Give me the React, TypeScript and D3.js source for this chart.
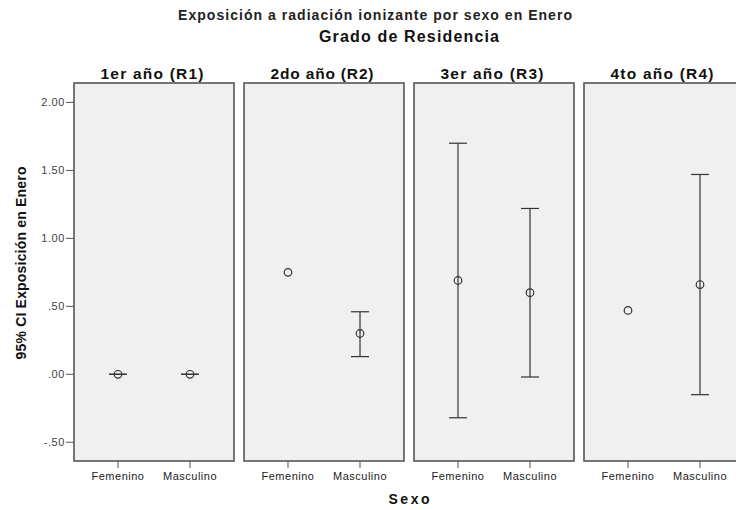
import React from "react";
import * as d3 from "d3";

const panelTitles = ["1er año (R1)", "2do año (R2)", "3er año (R3)", "4to año (R4)"];
const categories = ["Femenino", "Masculino"];
const femMean = [0.0, 0.75, 0.69, 0.47];
const femLower: (number | null)[] = [0.0, null, -0.32, null];
const femUpper: (number | null)[] = [0.0, null, 1.70, null];
const masMean = [0.0, 0.30, 0.60, 0.66];
const masLower: (number | null)[] = [0.0, 0.13, -0.02, -0.15];
const masUpper: (number | null)[] = [0.0, 0.46, 1.22, 1.47];
const yTicks = [-0.5, 0, 0.5, 1.0, 1.5, 2.0];

const W = 736, H = 510;
const panelLeft = 74, panelW = 160, panelGap = 10;
const top = 83, bottom = 461;
const font = "'Liberation Sans', Arial, sans-serif";

function fmt(v: number) {
  let s = v.toFixed(2);
  s = s.replace(/^(-?)0\./, "$1.");
  return s;
}

export default function App() {
  const n = panelTitles.length;
  const y = d3.scaleLinear().domain([-0.638, 2.143]).range([bottom, top]);
  const px = d3
    .scaleBand<number>()
    .domain(d3.range(n))
    .range([panelLeft, panelLeft + n * panelW + (n - 1) * panelGap])
    .paddingInner(panelGap / (panelW + panelGap))
    .paddingOuter(0);
  const bw = px.bandwidth();
  const x = d3.scalePoint<string>().domain(categories).range([0, bw]).padding(0.611);
  const series = [
    { mean: femMean, lo: femLower, hi: femUpper, cat: categories[0] },
    { mean: masMean, lo: masLower, hi: masUpper, cat: categories[1] },
  ];
  const stroke = "#333";
  const allPanelsCenter = (panelLeft + (px(n - 1)! + bw)) / 2;
  return (
    <svg width={W} height={H} style={{ position: "absolute", left: 0, top: 0, background: "#fff" }}>
      <text x={375} y={20} textAnchor="middle" fontFamily={font} fontWeight="bold" fontSize={14} fill="#222" textLength={394} lengthAdjust="spacing">
        Exposición a radiación ionizante por sexo en Enero
      </text>
      <text x={409} y={42} textAnchor="middle" fontFamily={font} fontWeight="bold" fontSize={16} fill="#111" textLength={180} lengthAdjust="spacing">
        Grado de Residencia
      </text>
      {yTicks.map((t) => (
        <g key={t}>
          <line x1={panelLeft - 8} x2={panelLeft} y1={y(t)} y2={y(t)} stroke="#555" strokeWidth={1} />
          <text x={panelLeft - 9} y={y(t)} dy="0.35em" textAnchor="end" fontFamily={font} fontSize={11} fill="#444" letterSpacing={0.6}>
            {fmt(t)}
          </text>
        </g>
      ))}
      <text transform={`translate(26, ${263}) rotate(-90)`} textAnchor="middle" fontFamily={font} fontWeight="bold" fontSize={14} fill="#111" textLength={193} lengthAdjust="spacing">
        95% CI Exposición en Enero
      </text>
      {panelTitles.map((title, i) => {
        const x0 = px(i)!;
        return (
          <g key={title}>
            <text x={x0 + bw / 2 - 2} y={79} textAnchor="middle" fontFamily={font} fontWeight="bold" fontSize={15.5} fill="#111" textLength={103} lengthAdjust="spacing">
              {title}
            </text>
            <rect x={x0} y={top} width={bw} height={bottom - top} fill="#f0f0f0" stroke="#555" strokeWidth={1.6} />
            {categories.map((c) => (
              <g key={c}>
                <line x1={x0 + x(c)!} x2={x0 + x(c)!} y1={bottom} y2={bottom + 7} stroke="#555" strokeWidth={1} />
                <text x={x0 + x(c)!} y={480} textAnchor="middle" fontFamily={font} fontSize={11} fill="#222" letterSpacing={0.5}>
                  {c}
                </text>
              </g>
            ))}
            {series.map((s) => {
              const cx = x0 + x(s.cat)!;
              const lo = s.lo[i], hi = s.hi[i];
              return (
                <g key={s.cat}>
                  {lo !== null && hi !== null && (
                    <g stroke={stroke} strokeWidth={1.2}>
                      <line x1={cx} x2={cx} y1={y(lo)} y2={y(hi)} />
                      <line x1={cx - 9} x2={cx + 9} y1={y(lo)} y2={y(lo)} />
                      <line x1={cx - 9} x2={cx + 9} y1={y(hi)} y2={y(hi)} />
                    </g>
                  )}
                  <circle cx={cx} cy={y(s.mean[i])} r={3.8} fill="none" stroke={stroke} strokeWidth={1.2} />
                </g>
              );
            })}
          </g>
        );
      })}
      <text x={allPanelsCenter} y={504} textAnchor="middle" fontFamily={font} fontWeight="bold" fontSize={14} fill="#111" textLength={41} lengthAdjust="spacing">
        Sexo
      </text>
    </svg>
  );
}
